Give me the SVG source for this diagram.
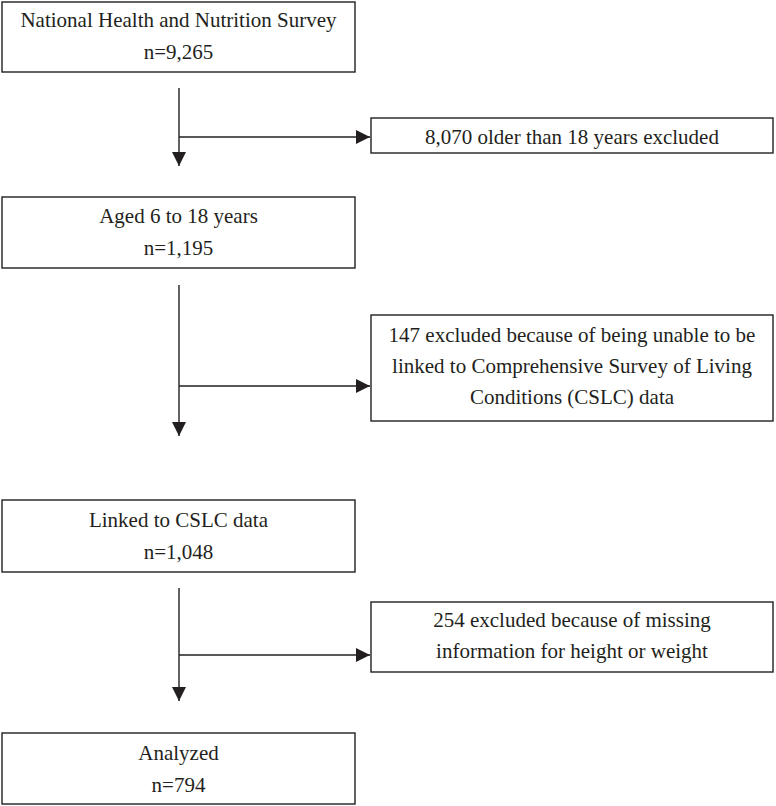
<svg xmlns="http://www.w3.org/2000/svg" width="776" height="806" viewBox="0 0 776 806">
  <style>
    .box { fill: #ffffff; stroke: #231f20; stroke-width: 1.4; }
    .lbl { font-family: "Liberation Serif", "Times New Roman", serif; font-size: 21px; fill: #231f20; text-anchor: middle; }
    .conn { fill: none; stroke: #231f20; stroke-width: 1.4; }
  </style>
  <defs>
    <marker id="arrow" markerUnits="userSpaceOnUse" markerWidth="14" markerHeight="14" refX="14" refY="7" orient="auto">
      <path d="M0,0 L14,7 L0,14 Z" fill="#231f20"/>
    </marker>
  </defs>
  <rect width="776" height="806" fill="#ffffff"/>

  <g id="node-survey">
    <rect class="box" x="2" y="2" width="353" height="70"/>
    <text class="lbl" x="178.5" y="27">National Health and Nutrition Survey</text>
    <text class="lbl" x="178.5" y="59">n=9,265</text>
  </g>

  <g id="node-excl1">
    <rect class="box" x="371" y="118" width="402" height="35"/>
    <text class="lbl" x="572" y="144">8,070 older than 18 years excluded</text>
  </g>

  <g id="node-aged">
    <rect class="box" x="2" y="197" width="353" height="71"/>
    <text class="lbl" x="178.5" y="223">Aged 6 to 18 years</text>
    <text class="lbl" x="178.5" y="255">n=1,195</text>
  </g>

  <g id="node-excl2">
    <rect class="box" x="371" y="315" width="402" height="106"/>
    <text class="lbl" x="572" y="342">147 excluded because of being unable to be</text>
    <text class="lbl" x="572" y="373">linked to Comprehensive Survey of Living</text>
    <text class="lbl" x="572" y="404">Conditions (CSLC) data</text>
  </g>

  <g id="node-linked">
    <rect class="box" x="2" y="500" width="353" height="72"/>
    <text class="lbl" x="178.5" y="527">Linked to CSLC data</text>
    <text class="lbl" x="178.5" y="559">n=1,048</text>
  </g>

  <g id="node-excl3">
    <rect class="box" x="371" y="602" width="402" height="70"/>
    <text class="lbl" x="572" y="627">254 excluded because of missing</text>
    <text class="lbl" x="572" y="658">information for height or weight</text>
  </g>

  <g id="node-analyzed">
    <rect class="box" x="2" y="733" width="353" height="71"/>
    <text class="lbl" x="178.5" y="760">Analyzed</text>
    <text class="lbl" x="178.5" y="792">n=794</text>
  </g>

  <g id="connectors">
    <line class="conn" x1="179" y1="88" x2="179" y2="166" marker-end="url(#arrow)"/>
    <line class="conn" x1="179" y1="137" x2="370" y2="137" marker-end="url(#arrow)"/>
    <line class="conn" x1="179" y1="285" x2="179" y2="436" marker-end="url(#arrow)"/>
    <line class="conn" x1="179" y1="386" x2="370" y2="386" marker-end="url(#arrow)"/>
    <line class="conn" x1="179" y1="588" x2="179" y2="701" marker-end="url(#arrow)"/>
    <line class="conn" x1="179" y1="655" x2="370" y2="655" marker-end="url(#arrow)"/>
  </g>
</svg>
